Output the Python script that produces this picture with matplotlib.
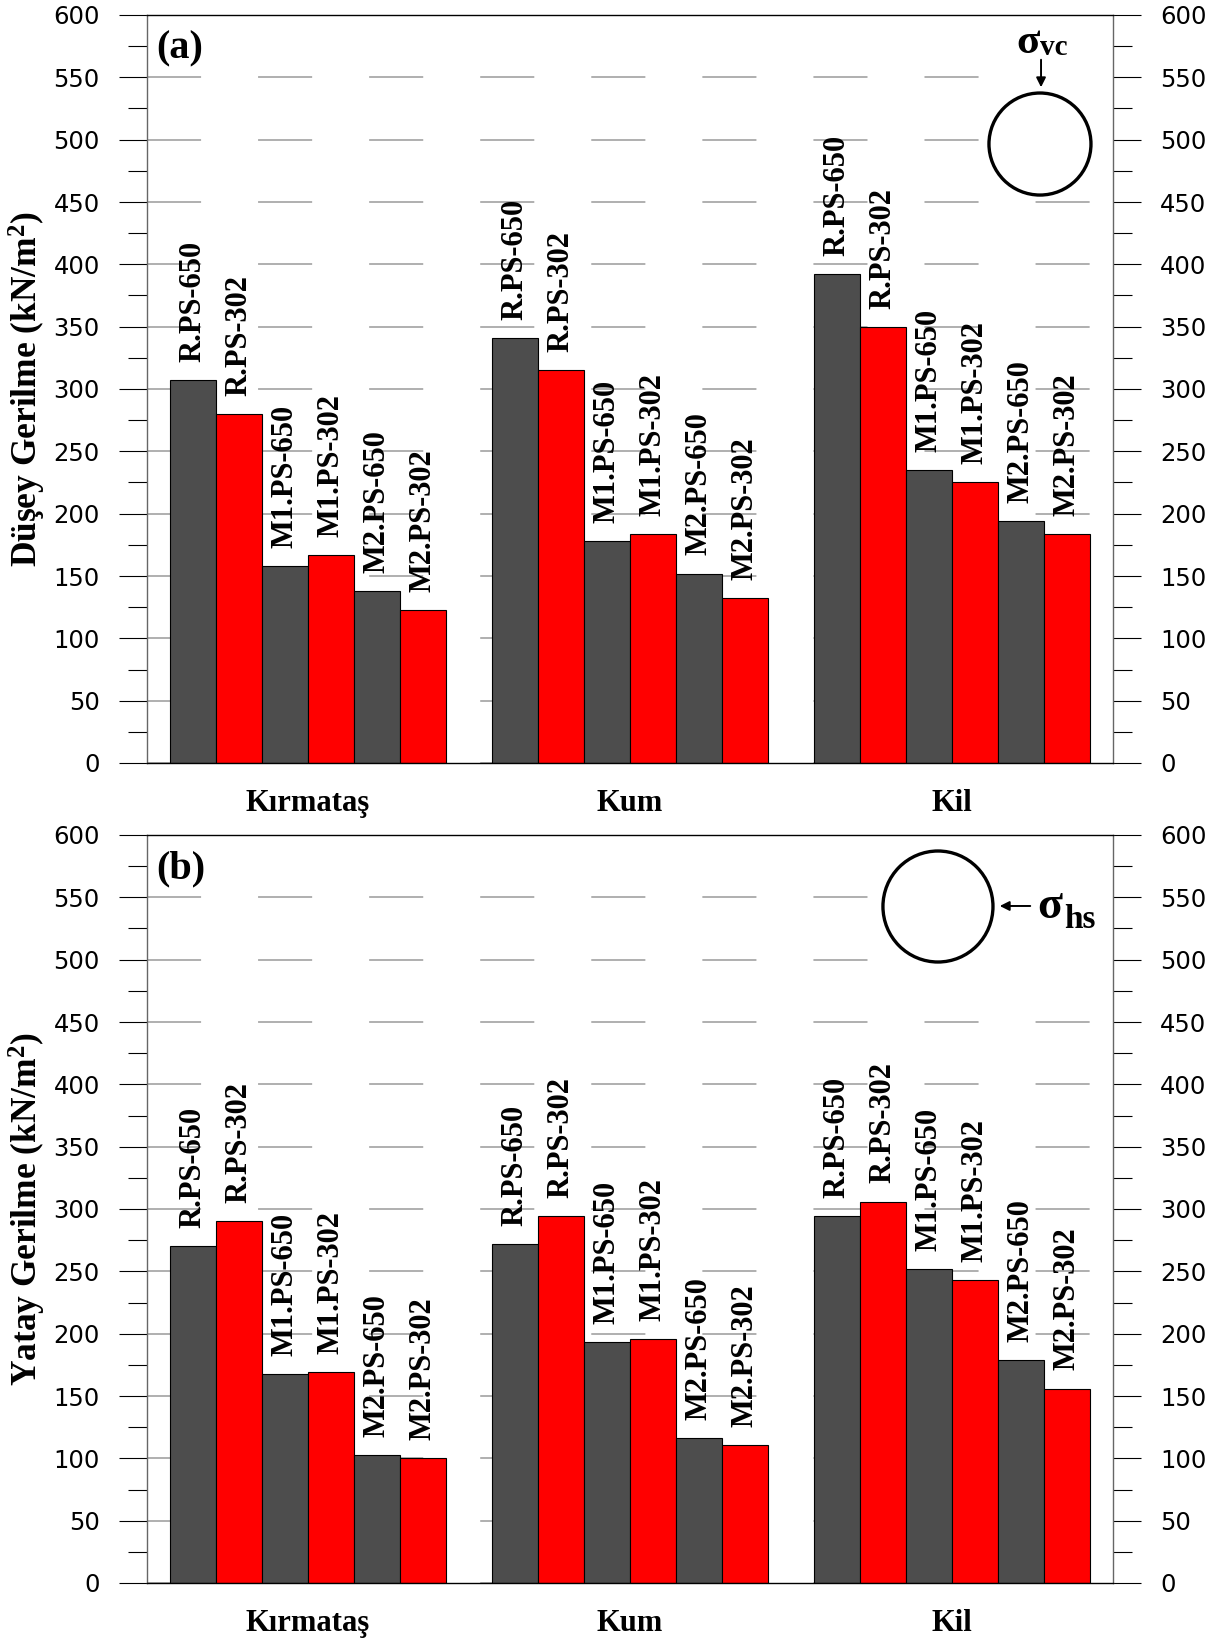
import numpy as np
import matplotlib
matplotlib.use("Agg")
import matplotlib.pyplot as plt
from matplotlib.patches import Ellipse, Rectangle
from matplotlib.ticker import MultipleLocator

# --- data (kN/m2) ---
groups = ["Kırmataş", "Kum", "Kil"]
bar_names = ["R.PS-650", "R.PS-302", "M1.PS-650", "M1.PS-302", "M2.PS-650", "M2.PS-302"]
kirmatas_v = [307, 280, 158, 167, 138, 123]
kum_v = [341, 315, 178, 184, 152, 132]
kil_v = [392, 350, 235, 225, 194, 184]
kirmatas_h = [270, 290, 168, 169, 103, 100]
kum_h = [272, 294, 193, 196, 116, 111]
kil_h = [294, 306, 252, 243, 179, 156]

bar_colors = ["#4d4d4d", "#ff0000"]
serif = "Liberation Serif"

plt.rcParams["mathtext.fontset"] = "custom"
plt.rcParams["mathtext.rm"] = "Liberation Serif:bold"
plt.rcParams["mathtext.bf"] = "Liberation Serif:bold"
plt.rcParams["mathtext.it"] = "Liberation Serif:bold"

W, H = 1223, 1638


def draw_panel(ax, rows, ylabel, tag):
    n = len(bar_names)
    for g, vals in enumerate(rows):
        xs = g * (n + 1) + np.arange(n) + 1
        cols = [bar_colors[i % 2] for i in range(n)]
        ax.bar(xs, vals, width=1.0, color=cols, edgecolor="black", linewidth=0.8, zorder=1)
        for x, v, name in zip(xs, vals, bar_names):
            ax.annotate(name, (x, v), xytext=(0, 13), textcoords="offset points",
                        rotation=90, ha="center", va="bottom",
                        fontsize=22, fontweight="bold", family=serif)

    ax.set_xlim(0, len(groups) * (n + 1))
    ax.set_ylim(0, 600)
    ax.set_yticks(np.arange(0, 601, 50))
    ax.yaxis.set_minor_locator(MultipleLocator(25))
    ax.yaxis.set_ticks_position("both")
    ax.tick_params(axis="y", which="major", direction="out", length=20, width=0.8,
                   labelsize=17.5, pad=14, labelright=True, colors="black")
    ax.tick_params(axis="y", which="minor", direction="out", length=13.7, width=0.8)
    for lab in ax.get_yticklabels():
        lab.set_family("DejaVu Sans")

    centers = [g * (n + 1) + (n + 1) / 2 for g in range(len(groups))]
    ax.set_xticks(centers)
    ax.set_xticklabels(groups, fontsize=22, fontweight="bold", family=serif)
    ax.tick_params(axis="x", length=0, pad=19)

    ax.set_axisbelow(True)
    ax.yaxis.grid(True, which="major", color="#9a9a9a", linewidth=1.1,
                  linestyle=(0, (35.4, 37.3)))
    for side in ["left", "right"]:
        ax.spines[side].set_color("#666666")
        ax.spines[side].set_linewidth(1.0)
    for side in ["top", "bottom"]:
        ax.spines[side].set_color("black")
        ax.spines[side].set_linewidth(1.0)

    ax.text((27 - 147) / 966, 0.5, ylabel, transform=ax.transAxes, rotation=90,
            ha="center", va="center", fontsize=25.5, fontweight="bold", family=serif)
    ax.text(0.010, 0.955, tag, transform=ax.transAxes, ha="left", va="center",
            fontsize=29, fontweight="bold", family=serif)


fig = plt.figure(figsize=(W / 100, H / 100), dpi=100)
ax1 = fig.add_axes([147 / W, 1 - 763 / H, 966 / W, 748 / H])
ax2 = fig.add_axes([147 / W, 1 - 1583 / H, 966 / W, 748 / H])

draw_panel(ax1, [kirmatas_v, kum_v, kil_v], "Düşey Gerilme (kN/m$^{2}$)", "(a)")
draw_panel(ax2, [kirmatas_h, kum_h, kil_h], "Yatay Gerilme (kN/m$^{2}$)", "(b)")

# inset sketch (a): vertical stress on the pipe
ax1.add_patch(Rectangle((0.8675, 0.7594), 0.119, 0.227, transform=ax1.transAxes,
                        facecolor="white", edgecolor="none", zorder=1.5))
ax1.add_patch(Ellipse((0.9244, 0.8275), 0.1056, 0.1364, transform=ax1.transAxes,
                      fill=False, edgecolor="black", linewidth=2.4, zorder=3))
ax1.annotate("", xy=(0.9255, 0.8997), xytext=(0.9255, 0.9439), xycoords="axes fraction",
             arrowprops=dict(arrowstyle="-|>", color="black", lw=1.4, mutation_scale=14))
ax1.text(0.9120, 0.9492, "σ", transform=ax1.transAxes, ha="center", va="baseline",
         fontsize=31, fontweight="bold", family=serif)
ax1.text(0.9244, 0.9465, "vc", transform=ax1.transAxes, ha="left", va="baseline",
         fontsize=21, fontweight="bold", family=serif)

# inset sketch (b): horizontal stress on the pipe
ax2.add_patch(Rectangle((0.7547, 0.8262), 0.2318, 0.155, transform=ax2.transAxes,
                        facecolor="white", edgecolor="none", zorder=1.5))
ax2.add_patch(Ellipse((0.8188, 0.9044), 0.1139, 0.1484, transform=ax2.transAxes,
                      fill=False, edgecolor="black", linewidth=2.4, zorder=3))
ax2.annotate("", xy=(0.8799, 0.9051), xytext=(0.9172, 0.9051), xycoords="axes fraction",
             arrowprops=dict(arrowstyle="-|>", color="black", lw=1.4, mutation_scale=14))
ax2.text(0.9348, 0.8890, "σ", transform=ax2.transAxes, ha="center", va="baseline",
         fontsize=33, fontweight="bold", family=serif)
ax2.text(0.9493, 0.8757, "hs", transform=ax2.transAxes, ha="left", va="baseline",
         fontsize=24, fontweight="bold", family=serif)

fig.savefig("out.png", dpi=100)
